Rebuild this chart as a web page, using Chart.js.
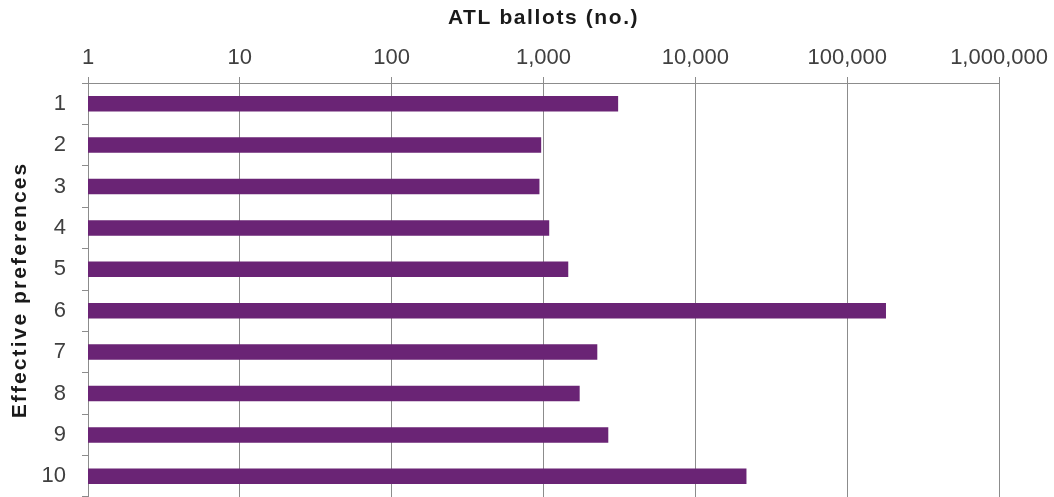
<!DOCTYPE html>
<html>
<head>
<meta charset="utf-8">
<script src="https://cdn.jsdelivr.net/npm/chart.js@4/dist/chart.umd.min.js"></script>
<style>
  body { margin: 0; background: #fff; }
  #wrap { width: 1054px; height: 497px; position: relative; }
  #atlChart { display: block; }
</style>
</head>
<body>
<div id="wrap"><canvas id="atlChart"></canvas></div>
<script>
// categories (effective preferences) and ATL ballot counts
const preferences = ["1", "2", "3", "4", "5", "6", "7", "8", "9", "10"];
const atlBallots = [3100, 965, 940, 1090, 1455, 180000, 2260, 1730, 2670, 21700];
const tickValues = [1, 10, 100, 1000, 10000, 100000, 1000000];

const fontFamily = "'Liberation Sans', Arial, sans-serif";
const gridColor = "#8c8c8c";

const atlChart = document.getElementById("atlChart");

// the axis titles in the original are a bit spaced out
const titleSpacing = {
  id: "titleSpacing",
  afterLayout(chart) {
    Object.values(chart.scales).forEach((s) => {
      if (s._spaced) return;
      const orig = s.drawTitle.bind(s);
      s.drawTitle = function () {
        const ctx = this.ctx;
        ctx.save();
        ctx.letterSpacing = this.axis === "x" ? "1.6px" : "2.1px";
        orig();
        ctx.restore();
      };
      s._spaced = true;
    });
  },
};

const dataAtl = {
  labels: preferences,
  datasets: [
    {
      label: "ATL ballots",
      data: atlBallots,
      backgroundColor: "#6a2475",
      borderWidth: 0,
      barPercentage: 0.375,
      categoryPercentage: 1,
    },
  ],
};

const configAtl = {
  type: "bar",
  data: dataAtl,
  plugins: [titleSpacing],
  options: {
    indexAxis: "y",
    responsive: true,
    maintainAspectRatio: false,
    animation: false,
    layout: { padding: { left: 0, right: 8, top: 0, bottom: 0 } },
    plugins: {
      legend: { display: false },
      tooltip: { enabled: false },
    },
    scales: {
      x: {
        type: "logarithmic",
        position: "top",
        min: 1,
        max: 1000000,
        afterBuildTicks: (scale) => {
          scale.ticks = tickValues.map((v) => ({ value: v }));
        },
        afterFit: (scale) => {
          scale.height = 83;
        },
        ticks: {
          callback: (v) => Number(v).toLocaleString("en-US"),
          font: { family: fontFamily, size: 22 },
          color: "#404040",
          padding: 6,
          maxRotation: 0,
          autoSkip: false,
        },
        grid: {
          color: gridColor,
          lineWidth: 1,
          tickLength: 6,
        },
        border: { color: gridColor },
        title: {
          display: true,
          text: "ATL ballots (no.)",
          font: { family: fontFamily, size: 21, weight: "bold" },
          color: "#1a1a1a",
          padding: { top: 6, bottom: 2 },
        },
      },
      y: {
        afterFit: (scale) => {
          scale.width = 88;
          scale.paddingTop = 0;
          scale.paddingBottom = 0;
        },
        ticks: {
          font: { family: fontFamily, size: 22 },
          color: "#404040",
          padding: 16,
        },
        grid: {
          offset: true,
          drawOnChartArea: false,
          color: gridColor,
          tickLength: 6,
        },
        border: { color: gridColor },
        title: {
          display: true,
          text: "Effective preferences",
          font: { family: fontFamily, size: 21, weight: "bold" },
          color: "#1a1a1a",
          padding: { top: 8, bottom: 0 },
        },
      },
    },
  },
};

new Chart(atlChart, configAtl);
</script>
</body>
</html>
